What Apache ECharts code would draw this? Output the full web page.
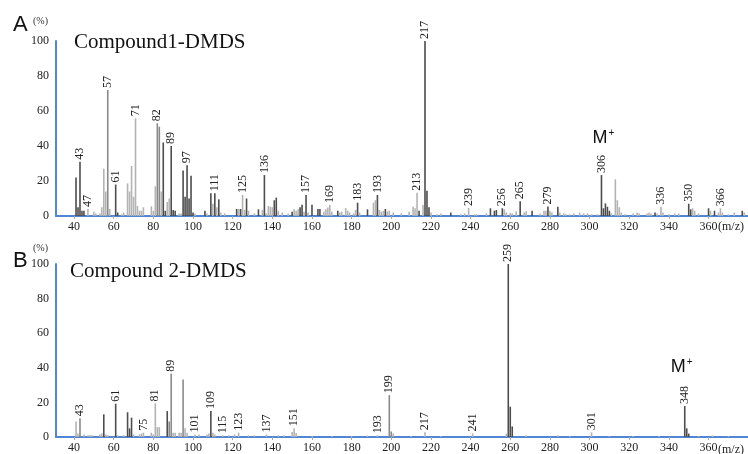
<!DOCTYPE html>
<html><head><meta charset="utf-8">
<script src="https://cdn.jsdelivr.net/npm/echarts@6/dist/echarts.min.js"></script>
<style>html,body{margin:0;padding:0;background:#fff}#c{width:748px;height:454px}</style>
</head><body><div id="c"></div>
<script>
// ---------- DATA ----------
const xTicks = [40,60,80,100,120,140,160,180,200,220,240,260,280,300,320,340,360];

// Panel A: Compound1-DMDS  [m/z, relative intensity %]
const peaksA_dark = [[41,22],[42,5],[43,31],[44,3],[45,3],[61,18],[62,2],[85,42],[86,3],[89,40],[90,3.5],[91,3],[95,26],[96,11],[97,29],[98,10],[99,23],[100,2],[106,3],[109,13],[111,13],[113,9.5],[122,4],[124,4],[127,10],[133,3.8],[136,23.4],[141,9],[142,10.5],[150,2.5],[154,5],[155,6.5],[157,12],[160,6.5],[163,4],[164,4],[173,3],[183,7.6],[188,3.8],[193,12],[197,4],[214,3],[217,100],[218,14.5],[219,5],[230,2],[250,4.4],[252,3],[253,3.4],[256,4.4],[265,8.5],[271,3],[279,5.5],[284,5.3],[306,23.4],[307,4.4],[308,7.2],[309,5.3],[310,3],[333,2],[350,7],[351,3.8],[360,4.4],[363,3],[377,3]];
const peaksA_mid = [[57,72],[82,53],[83,51]];
const peaksA_light = [[47,4],[50,2.5],[51,1.5],[53,1.5],[54,5],[55,27],[56,14],[58,4],[64,1],[65,2],[67,18.6],[68,14],[69,28.6],[70,11],[71,55.8],[72,5.7],[73,3],[74,3],[75,5],[79,5.5],[80,3],[81,17],[84,14],[87,8],[88,10],[93,1.5],[94,1.5],[101,1.5],[107,1.5],[110,7],[112,5],[114,2],[116,1.5],[123,4],[125,12],[126,3.5],[128,3],[131,1.5],[135,3.5],[137,1.5],[138,5.7],[139,5.3],[140,5],[143,3],[145,2],[148,1.5],[151,3.8],[152,3],[153,3.8],[156,2.5],[158,2],[166,2.5],[167,3.8],[168,4.8],[169,6.3],[170,2.5],[174,2],[175,2.5],[177,4.5],[178,3],[179,2],[181,1.5],[182,3.5],[184,2],[191,7.6],[192,9],[194,3.5],[195,2.5],[196,3],[198,2.5],[199,3],[201,2],[205,1.5],[209,2.5],[211,5.3],[212,4.5],[213,13.3],[216,6.3],[220,2],[223,1],[225,1.5],[235,1],[237,1.5],[239,4.6],[242,1],[243,1],[248,1.5],[257,3.8],[258,2],[260,1.8],[261,1.5],[263,2.7],[267,2],[268,2.7],[275,1.5],[277,3],[278,3],[280,3],[281,2],[285,2],[287,1.5],[288,1],[290,1],[292,1.5],[295,2],[297,1.5],[299,1.5],[301,1],[304,1],[311,1.5],[313,21],[314,9],[315,5],[316,2],[318,1],[322,1.5],[324,2],[325,1.5],[329,1.5],[330,2],[331,1.5],[334,1.5],[336,5.3],[337,2],[340,1],[343,1.5],[345,1.5],[352,4.4],[353,3],[355,1.5],[361,3],[365,2],[366,4.4],[367,2],[370,1],[373,2],[378,2]];
const labelsA = [43,47,57,61,71,82,89,97,111,125,136,157,169,183,193,213,217,239,256,265,279,306,336,350,366];
const molIonA = 306;

// Panel B: Compound 2-DMDS
const peaksB_dark = [[55,13.1],[61,19.2],[67,14.3],[68,5],[69,11.2],[87,15],[109,15],[259,100],[260,17.5],[261,6.1],[348,17.9],[349,5],[350,2]];
const peaksB_mid = [[43,10.9],[88,9],[89,36.6],[95,33.3],[199,24.2],[200,3.2]];
const peaksB_light = [[41,9],[42,2],[45,1.5],[47,1],[48,1],[49,1],[53,1.5],[54,2],[56,1.5],[57,1],[62,1],[65,1],[70,1.5],[73,1.5],[74,2],[75,2.5],[79,2.5],[80,1.5],[81,19.4],[82,5.7],[83,5.7],[90,2.5],[91,2.5],[93,2.5],[94,2.5],[96,5],[97,2.5],[101,1.5],[103,1.5],[107,1.5],[108,2],[110,2.5],[111,1.5],[115,1],[118,1],[121,1.5],[123,2.5],[128,1],[131,1],[137,1.5],[143,1],[146,1],[150,2.9],[151,5.1],[152,2.3],[160,0.6],[170,0.6],[180,0.6],[188,0.8],[193,1],[201,2],[210,0.6],[217,2.7],[225,0.6],[241,2],[258,2],[268,0.8],[284,1],[290,0.6],[301,2.7],[310,0.6],[322,0.6],[335,0.6],[355,0.6],[362,0.8],[370,0.6]];
const labelsB = [43,61,75,81,89,101,109,115,123,137,151,193,199,217,241,259,301,348];
const molIonB = 348;

// ---------- CHART ----------
const chart = echarts.init(document.getElementById('c'), null, {renderer:'canvas'});
const SERIF = '"Liberation Serif","DejaVu Serif",serif';
const SANS = '"Liberation Sans","DejaVu Sans",sans-serif';
const AXIS_BLUE = '#4f86d6';

function xAxisFor(i){
  return {type:'value', gridIndex:i, min:30.9, max:379.9,
    axisLine:{onZero:false, lineStyle:{color:AXIS_BLUE, width:2}},
    axisTick:{show:true, customValues:xTicks, length:3, lineStyle:{color:'#aaa'}},
    axisLabel:{customValues:xTicks, color:'#222', fontFamily:SERIF, fontSize:12, margin:5},
    splitLine:{show:false}};
}
function yAxisFor(i){
  return {type:'value', gridIndex:i, min:0, max:100, interval:20,
    axisLine:{show:true, lineStyle:{color:AXIS_BLUE, width:2}},
    axisTick:{show:false},
    axisLabel:{color:'#222', fontFamily:SERIF, fontSize:12, margin:7},
    splitLine:{show:false}};
}
function labelFor(list){
  const set = new Set(list);
  return {show:true, position:'top', rotate:90, align:'left', verticalAlign:'middle', distance:2,
    color:'#222', fontFamily:SERIF, fontSize:12,
    formatter:p => set.has(p.value[0]) ? String(p.value[0]) : ''};
}
function findInt(arrs, mz){
  for(const a of arrs){ for(const d of a){ if(d[0]===mz) return d[1]; } }
  return 0;
}
function mplus(mz, val, dist, dx){
  return {symbol:'circle', symbolSize:1, silent:true, itemStyle:{color:'rgba(0,0,0,0)'},
    label:{show:true, position:'top', distance:dist, offset:[dx,0], formatter:'{m|M}{p|+}',
      rich:{m:{fontSize:18, fontFamily:SANS, color:'#111'}, p:{fontSize:10, fontFamily:SANS, color:'#111', verticalAlign:'top', padding:[0,0,0,1]}}},
    data:[{coord:[mz, val]}]};
}
function bars(i, data, color, labels, extra){
  return Object.assign({type:'bar', xAxisIndex:i, yAxisIndex:i, data:data, barWidth:1.6, barGap:'-100%',
    itemStyle:{color:color}, label:labelFor(labels), silent:true}, extra||{});
}

const option = {
  animation:false,
  backgroundColor:'#fff',
  grid:[
    {left:56, right:0, top:41, height:175},
    {left:56, right:0, top:264, height:175}
  ],
  xAxis:[xAxisFor(0), xAxisFor(1)],
  yAxis:[yAxisFor(0), yAxisFor(1)],
  series:[
    bars(0, peaksA_light, '#b3b3b3', labelsA),
    bars(0, peaksA_mid, '#8a8a8a', labelsA),
    bars(0, peaksA_dark, '#4d4d4d', labelsA,
      {markPoint:mplus(molIonA, findInt([peaksA_dark,peaksA_mid,peaksA_light], molIonA), 28, 2)}),
    bars(1, peaksB_light, '#b3b3b3', labelsB),
    bars(1, peaksB_mid, '#8a8a8a', labelsB),
    bars(1, peaksB_dark, '#4d4d4d', labelsB,
      {markPoint:mplus(molIonB, findInt([peaksB_dark,peaksB_mid,peaksB_light], molIonB), 30, -3)})
  ],
  graphic:[
    {type:'text', x:13, y:25, style:{text:'A', font:'22px '+SANS, fill:'#111', verticalAlign:'middle'}},
    {type:'text', x:33, y:21, style:{text:'(%)', font:'10px '+SERIF, fill:'#333', verticalAlign:'middle'}},
    {type:'text', x:74, y:42, style:{text:'Compound1-DMDS', font:'21px '+SERIF, fill:'#111', verticalAlign:'middle'}},
    {type:'text', x:718, y:227, style:{text:'(m/z)', font:'12px '+SERIF, fill:'#222', verticalAlign:'middle'}},
    {type:'text', x:13, y:261, style:{text:'B', font:'22px '+SANS, fill:'#111', verticalAlign:'middle'}},
    {type:'text', x:33, y:248, style:{text:'(%)', font:'10px '+SERIF, fill:'#333', verticalAlign:'middle'}},
    {type:'text', x:70, y:271, style:{text:'Compound 2-DMDS', font:'21px '+SERIF, fill:'#111', verticalAlign:'middle'}},
    {type:'text', x:718, y:450, style:{text:'(m/z)', font:'12px '+SERIF, fill:'#222', verticalAlign:'middle'}}
  ]
};
chart.setOption(option);
</script>
</body></html>
